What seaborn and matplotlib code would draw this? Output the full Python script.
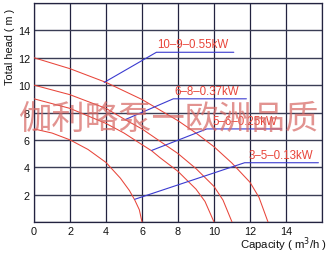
import matplotlib
matplotlib.use("Agg")
import matplotlib.pyplot as plt
import seaborn as sns
import pandas as pd

# ---- data ----
curve_names = ["10–9–0.55kW", "6–8–0.37kW", "5–6–0.25kW", "3–5–0.13kW"]

q_1009 = [0, 2, 4, 6, 8, 9, 10, 11, 12, 12.5, 13]
h_1009 = [12, 11.2, 10.2, 8.95, 7.4, 6.5, 5.5, 4.3, 2.9, 1.8, 0]

q_0608 = [0, 2, 4, 5.1, 6, 7, 8, 9, 10, 10.5, 11]
h_0608 = [10, 9.3, 8.3, 7.45, 6.8, 5.9, 5.0, 3.9, 2.6, 1.6, 0]

q_0506 = [0, 2, 4, 5, 6, 6.54, 7, 8, 9, 9.5, 10]
h_0506 = [9, 8.3, 7.2, 6.5, 5.65, 5.2, 4.7, 3.7, 2.4, 1.5, 0]

q_0305 = [0, 1, 2, 3, 4, 4.8, 5.3, 5.6, 5.85, 6]
h_0305 = [6.8, 6.5, 6.0, 5.3, 4.35, 3.2, 2.3, 1.6, 0.9, 0]

# pointer (leader) lines: start on curve, elbow, end of horizontal
lead_x = [[3.9, 6.8, 11.1], [5.1, 7.74, 11.8], [6.54, 9.6, 13.76], [5.6, 11.7, 15.8]]
lead_y = [[10.2, 12.4, 12.4], [7.5, 9.0, 9.0], [5.23, 6.8, 6.8], [1.66, 4.33, 4.33]]
label_x = [6.85, 7.8, 9.9, 11.9]

x_ticks = [0, 2, 4, 6, 8, 10, 12, 14]
y_ticks = [2, 4, 6, 8, 10, 12, 14]
watermark = "伽利略泵一欧洲品质"

frames = []
for name, q, h in zip(curve_names,
                      [q_1009, q_0608, q_0506, q_0305],
                      [h_1009, h_0608, h_0506, h_0305]):
    frames.append(pd.DataFrame({"pump": name, "q": q, "h": h}))
df = pd.concat(frames, ignore_index=True)

sns.set_theme(style="white")
plt.rcParams["font.family"] = ["Liberation Sans", "DejaVu Sans"]

fig = plt.figure(figsize=(3.3, 2.55), dpi=100)
ax = fig.add_axes([34/330, 1 - 223/255, 288/330, 219/255])
ax.set_xlim(0, 16)
ax.set_ylim(0, 16)

# grid
for gx in range(0, 17, 2):
    ax.axvline(gx, color="#232340", lw=0.9, zorder=1)
for gy in range(0, 17, 2):
    ax.axhline(gy, color="#3a3d55", lw=1.0, zorder=1)
for s in ax.spines.values():
    s.set_color("#232340")
    s.set_linewidth(0.9)

red = "#e8453a"
sns.lineplot(data=df, x="q", y="h", units="pump", estimator=None, sort=False,
             color=red, lw=0.75, ax=ax, legend=False, zorder=3)

blue = "#3b3bd0"
for lx, ly, tx, name in zip(lead_x, lead_y, label_x, curve_names):
    ax.plot(lx, ly, color=blue, lw=0.8, zorder=4)
    ax.text(tx, ly[-1] + 0.15, name, color=red, fontsize=8.3,
            ha="left", va="bottom", zorder=5)

ax.set_xticks(x_ticks)
ax.set_yticks(y_ticks)
ax.tick_params(axis="both", length=0, pad=3, labelsize=7.8, colors="#111111")
ax.set_xlabel("")
ax.set_ylabel("")

fig.text(10/330, 1 - 47/255, "Total head ( m )", rotation=90, fontsize=7.8,
         ha="center", va="center", color="#111111")
fig.text(284/330, 1 - 245/255, "Capacity ( m$^3$/h )", fontsize=8.2,
         ha="center", va="center", color="#111111")

fig.text(168/330, 1 - 119/255, watermark, fontsize=24,
         family=["Noto Sans CJK SC", "DejaVu Sans"], color="#d76a66",
         alpha=0.72, ha="center", va="center", zorder=10)

fig.savefig("out.png", dpi=100, facecolor="white")
